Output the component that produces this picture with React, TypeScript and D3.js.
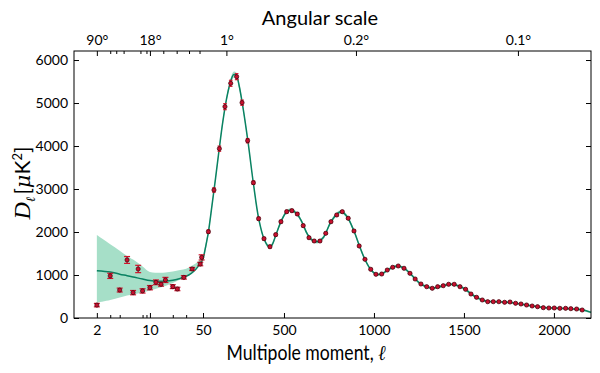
import React, { useRef, useEffect } from "react";
import {
  select,
  scaleLog,
  scaleLinear,
  axisBottom,
  axisTop,
  axisLeft,
  axisRight,
  line,
  area,
  curveCatmullRom,
  format,
} from "d3";

// low-l points (log part of the axis)
const lowL = [2, 3, 4, 5, 6, 7, 8, 10, 12, 14, 16, 20, 23, 28, 36, 46, 48];
const lowD = [300, 980, 650, 1350, 590, 1140, 630, 705, 830, 785, 885, 730, 675, 945, 1140, 1255, 1410];
const lowErr = [40, 60, 45, 80, 50, 85, 50, 50, 55, 45, 60, 45, 40, 40, 35, 40, 60];

// binned high-l points
const highL = [80, 111, 141, 172, 204, 237, 267, 298, 330, 359, 389, 422, 454, 483, 515, 544, 574, 607, 639, 668,
  700, 732, 761, 793, 824, 857, 889, 918, 950, 982, 1011, 1043, 1074, 1104, 1135, 1167, 1200, 1229, 1261, 1293,
  1324, 1354, 1385, 1415, 1446, 1478, 1509, 1539, 1570, 1602, 1632, 1663, 1694, 1726, 1756, 1787, 1817, 1848,
  1879, 1909, 1941, 1972, 2002, 2033, 2065, 2094, 2126, 2157];
const highD = [2008, 2977, 3938, 4915, 5459, 5613, 5008, 4124, 3147, 2310, 1845, 1658, 1938, 2240, 2473, 2496, 2419,
  2148, 1868, 1791, 1791, 1970, 2240, 2396, 2473, 2319, 2024, 1675, 1365, 1133, 1016, 1023, 1116, 1179, 1210, 1156,
  1039, 907, 791, 728, 691, 728, 751, 784, 784, 728, 668, 558, 481, 419, 379, 379, 379, 365, 372, 342, 326, 302,
  279, 263, 240, 233, 233, 225, 225, 217, 209, 186];
const highErr = [40, 50, 60, 70, 70, 70, 60, 50, 40, 35, 30, 30, 30, 30, 30, 30, 30, 30, 25, 25, 25, 25, 25, 25, 25,
  25, 25, 25, 20, 20, 20, 20, 20, 20, 20, 20, 20, 20, 20, 20, 20, 20, 20, 20, 20, 20, 20, 20, 20, 20, 20, 20, 20,
  20, 20, 20, 20, 20, 20, 20, 20, 20, 20, 20, 20, 20, 20, 20];

// best-fit model curve
const modelL = [2, 3, 4, 5, 6, 8, 10, 13, 16, 20, 25, 30, 35, 40, 45, 50,
  60, 70, 80, 100, 120, 140, 160, 180, 200, 220, 235, 250, 270, 300, 330, 360, 390, 415, 430, 455, 485, 515, 540,
  570, 600, 630, 660, 690, 720, 760, 800, 820, 850, 890, 920, 950, 980, 1010, 1040, 1075, 1110, 1140, 1170, 1200,
  1230, 1260, 1295, 1325, 1360, 1400, 1440, 1480, 1510, 1540, 1570, 1600, 1640, 1700, 1760, 1820, 1880, 1940,
  2000, 2060, 2120, 2160, 2206];
const modelD = [1100, 1070, 1020, 985, 955, 905, 870, 855, 860, 880, 920, 970, 1040, 1130, 1240, 1380,
  1560, 1770, 2000, 2620, 3260, 3930, 4560, 5080, 5450, 5660, 5640, 5420, 4950, 4100, 3130, 2300, 1830, 1660, 1680,
  1930, 2260, 2470, 2510, 2430, 2230, 1950, 1800, 1780, 1880, 2230, 2440, 2470, 2360, 2010, 1670, 1360, 1140, 1020,
  1020, 1110, 1190, 1205, 1150, 1040, 905, 790, 725, 695, 720, 770, 780, 730, 660, 560, 480, 420, 385, 375, 360,
  320, 280, 245, 230, 222, 205, 185, 130];
// cosmic variance band, low-l edges
const bandUpLow = [1930, 1716, 1565, 1444, 1358, 1200, 1070, 1054, 1058, 1082, 1116, 1147, 1210, 1268, 1349, 1460];
const bandLoLow = [356, 419, 477, 523, 547, 593, 640, 698, 744, 814, 895, 977, 1058, 1151, 1244, 1320];
// band half width above l=50
const bandHalfHigh = [80, 70, 60, 60, 60, 60, 60, 60, 70, 70, 70, 70, 60, 50, 40, 40, 40, 40, 40, 40,
  40, 40, 40, 40, 40, 40, 40, 40, 40, 40, 40, 40, 40, 40, 40, 40, 30, 30, 30, 30,
  30, 30, 30, 30, 30, 30, 30, 30, 30, 30, 30, 30, 30, 30, 30, 30, 25, 25, 25, 25,
  25, 25, 25, 25, 25, 25, 25];

const yTicks = [0, 1000, 2000, 3000, 4000, 5000, 6000];
const xTicksLog = [2, 10, 50];
const xMinorLog = [3, 4, 8, 9, 20, 30];
const xTicksLin = [500, 1000, 1500, 2000];
const topMajorDeg = [90, 18, 1, 0.2, 0.1];
const topMajorLabel = ["90°", "18°", "1°", "0.2°", "0.1°"];
const topMinorDeg = [60, 50, 40, 24, 20, 12, 8, 5.5, 4];

const App = () => {
  const svgRef = useRef(null);
  const width = 600;
  const height = 373;
  const margin = { top: 51, right: 9, bottom: 55, left: 74 };

  useEffect(() => {
    const svg = select(svgRef.current);
    svg.selectAll("*").remove();
    const iw = width - margin.left - margin.right;
    const ih = height - margin.top - margin.bottom;
    const split = 129;

    const xLog = scaleLog().domain([1, 50]).range([0, split]);
    const xLin = scaleLinear().domain([50, 2206]).range([split, iw]);
    const x = (l: number) => (l <= 50 ? xLog(l) : xLin(l));
    const y = scaleLinear().domain([0, 6210]).range([ih, 0]);

    const g = svg.append("g").attr("transform", "translate(" + margin.left + "," + margin.top + ")");

    // band
    const bandRows = modelL.map((l, i) => {
      if (i < bandUpLow.length) return { l, lo: bandLoLow[i], hi: bandUpLow[i] };
      const h = bandHalfHigh[i - bandUpLow.length];
      return { l, lo: modelD[i] - h, hi: modelD[i] + h };
    });
    const band = area<any>()
      .x((d) => x(d.l))
      .y0((d) => y(d.lo))
      .y1((d) => y(d.hi))
      .curve(curveCatmullRom);
    g.append("path").attr("d", band(bandRows)).attr("fill", "#a6dfc8").attr("stroke", "none");

    // model line
    const modelLine = line<number>()
      .x((d) => x(d))
      .y((d, i) => y(modelD[i]))
      .curve(curveCatmullRom);
    g.append("path").attr("d", modelLine(modelL)).attr("fill", "none")
      .attr("stroke", "#0a8262").attr("stroke-width", 1.5);

    // data points with error bars
    const pts = lowL.map((l, i) => ({ l, d: lowD[i], e: lowErr[i], cap: 3 }))
      .concat(highL.map((l, i) => ({ l, d: highD[i], e: highErr[i], cap: 1.8 })));
    const eb = g.append("g").attr("stroke", "#d0142c").attr("stroke-width", 1.2);
    pts.forEach((p) => {
      const px = x(p.l);
      eb.append("line").attr("x1", px).attr("x2", px).attr("y1", y(p.d - p.e)).attr("y2", y(p.d + p.e));
      eb.append("line").attr("x1", px - p.cap).attr("x2", px + p.cap).attr("y1", y(p.d - p.e)).attr("y2", y(p.d - p.e));
      eb.append("line").attr("x1", px - p.cap).attr("x2", px + p.cap).attr("y1", y(p.d + p.e)).attr("y2", y(p.d + p.e));
    });
    g.selectAll(".pt").data(pts).enter().append("circle")
      .attr("class", "pt")
      .attr("cx", (d) => x(d.l)).attr("cy", (d) => y(d.d)).attr("r", 2.1)
      .attr("fill", "#c8102e").attr("stroke", "#3a0008").attr("stroke-width", 0.7);

    // frame
    g.append("rect").attr("width", iw).attr("height", ih).attr("fill", "none")
      .attr("stroke", "#000").attr("stroke-width", 1);

    const styleAxis = (a: any) => {
      a.select(".domain").remove();
      a.selectAll("text").style("font-family", "Lato, sans-serif").style("font-size", "14px").attr("fill", "#000");
      a.selectAll("line").attr("stroke", "#000");
    };

    // bottom axis
    const bLog = g.append("g").attr("transform", "translate(0," + ih + ")")
      .call(axisBottom(xLog).tickValues(xTicksLog).tickFormat(format("d")).tickSize(-5).tickPadding(7));
    styleAxis(bLog);
    const bMin = g.append("g").attr("transform", "translate(0," + ih + ")")
      .call(axisBottom(xLog).tickValues(xMinorLog).tickFormat(() => "").tickSize(-3));
    styleAxis(bMin);
    const bLin = g.append("g").attr("transform", "translate(0," + ih + ")")
      .call(axisBottom(xLin).tickValues(xTicksLin).tickFormat(format("d")).tickSize(-5).tickPadding(7));
    styleAxis(bLin);

    // top axis (angular scale)
    const topMaj = g.append("g");
    topMajorDeg.forEach((deg, i) => {
      const l = 180 / deg;
      const sc: any = l <= 50 ? xLog : xLin;
      const a = topMaj.append("g").call(axisTop(sc).tickValues([l]).tickFormat(() => topMajorLabel[i]).tickSize(-5).tickPadding(6));
      styleAxis(a);
    });
    topMinorDeg.forEach((deg) => {
      const l = 180 / deg;
      const sc: any = l <= 50 ? xLog : xLin;
      const a = g.append("g").call(axisTop(sc).tickValues([l]).tickFormat(() => "").tickSize(-3));
      styleAxis(a);
    });

    // left and right axes
    const la = g.append("g").call(axisLeft(y).tickValues(yTicks).tickFormat(format("d")).tickSize(-5).tickPadding(6));
    styleAxis(la);
    const ra = g.append("g").attr("transform", "translate(" + iw + ",0)")
      .call(axisRight(y).tickValues(yTicks).tickFormat(() => "").tickSize(-5));
    styleAxis(ra);

    // titles
    svg.append("text").attr("x", 320).attr("y", 25).attr("text-anchor", "middle")
      .style("font-family", "Lato, sans-serif").style("font-size", "20px").text("Angular scale");

    const xl = svg.append("text").attr("transform", "translate(306,360) scale(0.84,1)").attr("text-anchor", "middle")
      .style("font-family", "Lato, sans-serif").style("font-size", "21px");
    xl.append("tspan").text("Multipole moment, ");
    xl.append("tspan").style("font-family", "DejaVu Serif, serif").style("font-style", "italic").text("ℓ");

    const yl = svg.append("text").attr("transform", "translate(30,183) rotate(-90)").attr("text-anchor", "middle")
      .style("font-family", "Lato, sans-serif").style("font-size", "21px");
    yl.append("tspan").style("font-family", "Liberation Serif, serif").style("font-style", "italic").style("font-size", "24px").text("D");
    yl.append("tspan").attr("dy", 5).style("font-family", "DejaVu Serif, serif").style("font-style", "italic").style("font-size", "13px").text("ℓ");
    yl.append("tspan").attr("dy", -5).attr("dx", 2).text("[");
    yl.append("tspan").style("font-family", "DejaVu Serif, serif").style("font-style", "italic").text("μ");
    yl.append("tspan").text("K");
    yl.append("tspan").attr("dy", -8).style("font-size", "13px").text("2");
    yl.append("tspan").attr("dy", 8).text("]");
  }, []);

  return (
    <div style={{ position: "absolute", left: 0, top: 0 }}>
      <svg ref={svgRef} width={width} height={height} style={{ display: "block", background: "#fff" }}></svg>
    </div>
  );
};

export default App;
